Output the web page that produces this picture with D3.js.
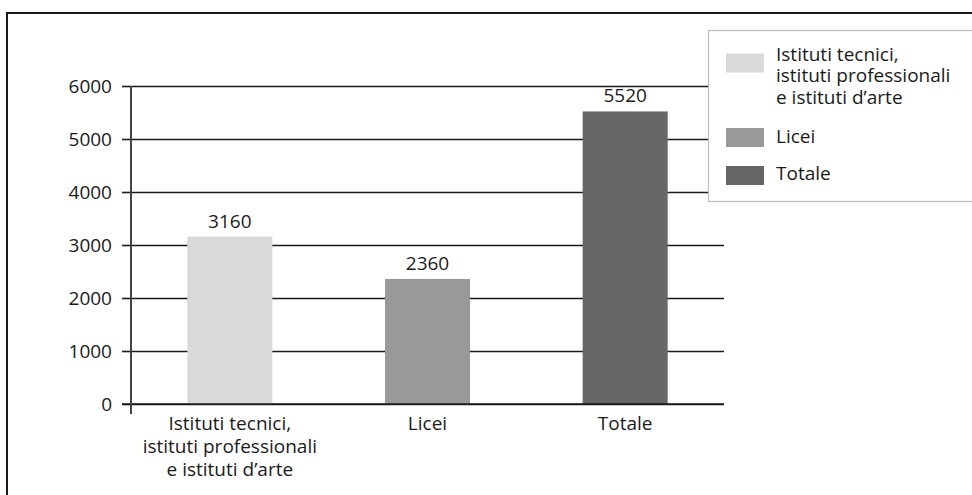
<!DOCTYPE html>
<html>
<head>
<meta charset="utf-8">
<script src="https://cdn.jsdelivr.net/npm/d3@7"></script>
<style>
  html, body { margin: 0; padding: 0; background: #fff; }
  svg { display: block; }
  text { font-family: "Open Sans", "Noto Sans", sans-serif; fill: #1a1a1a; }
</style>
</head>
<body>
<svg id="chart" width="972" height="495"></svg>
<script>
// Categories and values
const categories = ["Istituti tecnici,\nistituti professionali\ne istituti d’arte", "Licei", "Totale"];
const values = [3160, 2360, 5520];
const colors = ["#d9d9d9", "#999999", "#666666"];
const yTicks = [0, 1000, 2000, 3000, 4000, 5000, 6000];
const legendLabels = ["Istituti tecnici,\nistituti professionali\ne istituti d’arte", "Licei", "Totale"];

const svg = d3.select("#chart");
const fontSize = 19;

// Outer frame (open on the right and bottom)
svg.append("path")
  .attr("d", "M7,495 V13 H972")
  .attr("fill", "none")
  .attr("stroke", "#1a1a1a")
  .attr("stroke-width", 2);

const plotLeft = 131, plotRight = 724, plotTop = 86, plotBottom = 404;

const x = d3.scaleBand()
  .domain(d3.range(categories.length))
  .range([plotLeft, plotRight])
  .paddingInner(0.57)
  .paddingOuter(0.285);

const y = d3.scaleLinear()
  .domain([0, 6000])
  .range([plotBottom, plotTop]);

// Horizontal gridlines
const grid = svg.append("g")
  .attr("transform", `translate(${plotLeft},0)`)
  .call(d3.axisLeft(y).tickValues(yTicks).tickSize(-(plotRight - plotLeft)).tickFormat(""));
grid.select(".domain").remove();
grid.selectAll(".tick line").attr("stroke", "#1a1a1a").attr("stroke-width", 1.6);

// Left ticks and labels
const yAxis = svg.append("g")
  .attr("transform", `translate(${plotLeft},0)`)
  .call(d3.axisLeft(y).tickValues(yTicks).tickSize(9).tickPadding(10).tickFormat(d3.format("d")));
yAxis.select(".domain").remove();
yAxis.selectAll(".tick line").attr("stroke", "#1a1a1a").attr("stroke-width", 1.6);
yAxis.selectAll(".tick text")
  .attr("font-size", fontSize)
  .attr("font-family", "'Open Sans', 'Noto Sans', sans-serif")
  .attr("fill", "#1a1a1a");

// Bars
svg.append("g").selectAll("rect")
  .data(values)
  .join("rect")
  .attr("x", (d, i) => x(i))
  .attr("y", d => y(d))
  .attr("width", x.bandwidth())
  .attr("height", d => y(0) - y(d))
  .attr("fill", (d, i) => colors[i]);

// Baseline over the bars
svg.append("line")
  .attr("x1", plotLeft - 9).attr("x2", plotRight)
  .attr("y1", y(0)).attr("y2", y(0))
  .attr("stroke", "#1a1a1a").attr("stroke-width", 1.6);

// Vertical axis line
svg.append("line")
  .attr("x1", plotLeft).attr("x2", plotLeft)
  .attr("y1", y(6000)).attr("y2", y(0) + 10)
  .attr("stroke", "#444").attr("stroke-width", 2);

// Value labels
svg.append("g").selectAll("text")
  .data(values)
  .join("text")
  .attr("x", (d, i) => x(i) + x.bandwidth() / 2)
  .attr("y", d => y(d) - 9)
  .attr("text-anchor", "middle")
  .attr("font-size", fontSize)
  .text(d => d);

// Category labels (multi-line)
const catG = svg.append("g");
categories.forEach((c, i) => {
  const t = catG.append("text")
    .attr("x", x(i) + x.bandwidth() / 2)
    .attr("y", 430)
    .attr("text-anchor", "middle")
    .attr("font-size", fontSize);
  c.split("\n").forEach((line, j) => {
    t.append("tspan")
      .attr("x", x(i) + x.bandwidth() / 2)
      .attr("dy", j === 0 ? 0 : 23)
      .text(line);
  });
});

// Legend
const legend = svg.append("g");
legend.append("rect")
  .attr("x", 708.5).attr("y", 30.5)
  .attr("width", 270).attr("height", 171)
  .attr("fill", "#fff")
  .attr("stroke", "#bdbdbd")
  .attr("stroke-width", 1.2);

const swatchTops = [53.5, 128, 166];
const textBaselines = [60.5, 142.5, 180];
legendLabels.forEach((lab, i) => {
  legend.append("rect")
    .attr("x", 726).attr("y", swatchTops[i])
    .attr("width", 38).attr("height", 19)
    .attr("fill", colors[i]);
  const t = legend.append("text")
    .attr("x", 776)
    .attr("y", textBaselines[i])
    .attr("font-size", fontSize);
  lab.split("\n").forEach((line, j) => {
    t.append("tspan")
      .attr("x", 776)
      .attr("dy", j === 0 ? 0 : 21.5)
      .text(line);
  });
});
</script>
</body>
</html>
